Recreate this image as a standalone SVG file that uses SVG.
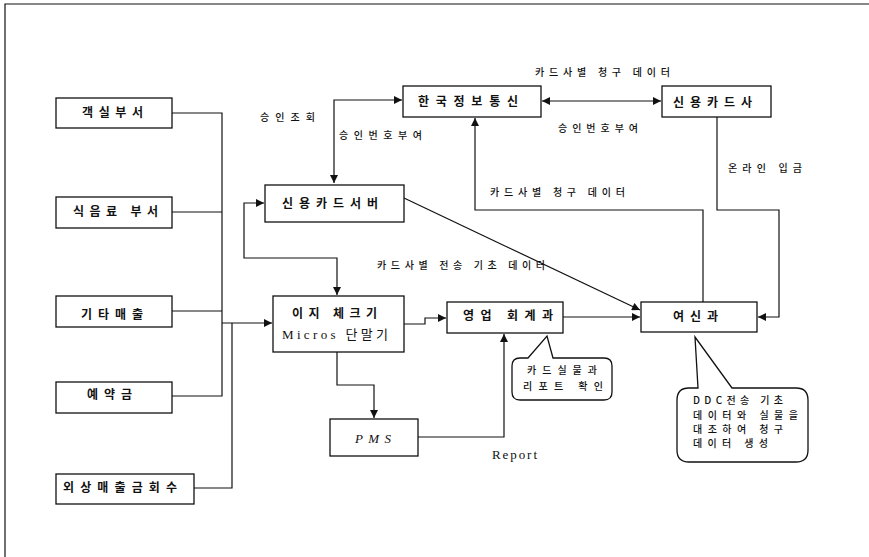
<svg xmlns="http://www.w3.org/2000/svg" width="869" height="557" viewBox="0 0 869 557">
<style>
.box{fill:#fff;stroke:#111;stroke-width:1.3}
.ln{fill:none;stroke:#111;stroke-width:1.2}
.t{font-family:"Noto Sans CJK KR","Liberation Sans",sans-serif;font-size:12px;font-weight:bold;fill:#111}
.l{font-family:"Noto Sans CJK KR","Liberation Sans",sans-serif;font-size:10px;font-weight:500;fill:#111}
.s{font-family:"Liberation Serif","Noto Sans CJK KR",serif;font-size:13px;fill:#111}
</style>
<defs>
<marker id="a" viewBox="0 0 10 10" refX="10" refY="5" markerWidth="9" markerHeight="8" markerUnits="userSpaceOnUse" orient="auto-start-reverse"><path d="M0,0 L10,5 L0,10 Z" fill="#111"/></marker>
</defs>
<rect width="869" height="557" fill="#fff"/>
<path class="ln" d="M5,557 V4 H869" stroke-width="1.8"/>
<g id="connectors">
<path class="ln" d="M172,113 H222 V396 H172"/>
<path class="ln" d="M172,212 H222"/>
<path class="ln" d="M172,311 H222"/>
<path class="ln" d="M222,323 H272" marker-end="url(#a)"/>
<path class="ln" d="M194,488 H232 V323"/>
<path class="ln" d="M264,203 H244 V258 H337 V295" marker-start="url(#a)" marker-end="url(#a)"/>
<path class="ln" d="M402,100 H334 V183" marker-start="url(#a)" marker-end="url(#a)"/>
<path class="ln" d="M542,101 H661" marker-start="url(#a)" marker-end="url(#a)"/>
<path class="ln" d="M717,117 V210 H779 V317 H758" marker-end="url(#a)"/>
<path class="ln" d="M703,302 V210 H475 V118" marker-end="url(#a)"/>
<path class="ln" d="M404,198 L640,310" marker-end="url(#a)"/>
<path class="ln" d="M404,324 H425 V318 H446" marker-end="url(#a)"/>
<path class="ln" d="M563,317 H640" marker-end="url(#a)"/>
<path class="ln" d="M337,352 V385 H374 V418" marker-end="url(#a)"/>
<path class="ln" d="M418,437 H504 V334" marker-end="url(#a)"/>
</g>
<g id="n-gaeksil"><rect class="box" x="56" y="98" width="116" height="30"/><text class="t" x="82" y="117" textLength="61" lengthAdjust="spacing">객실부서</text></g>
<g id="n-sigeumryo"><rect class="box" x="56" y="197" width="116" height="31"/><text class="t" x="73" y="216" textLength="85" lengthAdjust="spacing">식음료 부서</text></g>
<g id="n-gita"><rect class="box" x="56" y="296" width="116" height="31"/><text class="t" x="81" y="319" textLength="62" lengthAdjust="spacing">기타매출</text></g>
<g id="n-yeyak"><rect class="box" x="56" y="382" width="116" height="31"/><text class="t" x="87" y="399" textLength="45" lengthAdjust="spacing">예약금</text></g>
<g id="n-oesang"><rect class="box" x="56" y="474" width="138" height="30"/><text class="t" x="63" y="492" textLength="114" lengthAdjust="spacing">외상매출금회수</text></g>
<g id="n-server"><rect class="box" x="265" y="185" width="139" height="37"/><text class="t" x="282" y="208" textLength="96" lengthAdjust="spacing">신용카드서버</text></g>
<g id="n-kicc"><rect class="box" x="403" y="86" width="138" height="31"/><text class="t" x="418" y="106" textLength="100" lengthAdjust="spacing">한국정보통신</text></g>
<g id="n-cardco"><rect class="box" x="662" y="86" width="109" height="31"/><text class="t" x="673" y="107" textLength="79" lengthAdjust="spacing">신용카드사</text></g>
<g id="n-easy"><rect class="box" x="273" y="296" width="131" height="56"/><text class="t" x="292" y="318" textLength="85" lengthAdjust="spacing">이지 체크기</text><text class="s" x="282" y="339" textLength="106" lengthAdjust="spacing">Micros 단말기</text></g>
<g id="n-sales"><rect class="box" x="447" y="302" width="116" height="31"/><text class="t" x="463" y="320" textLength="90" lengthAdjust="spacing">영업 회계과</text></g>
<g id="n-credit"><rect class="box" x="641" y="302" width="116" height="30"/><text class="t" x="673" y="321" textLength="45" lengthAdjust="spacing">여신과</text></g>
<g id="n-pms"><rect class="box" x="330" y="419" width="88" height="37"/><text class="s" x="355" y="443" font-style="italic" textLength="36" lengthAdjust="spacing">PMS</text></g>
<g id="c-sales"><path class="box" d="M528,358 L547,336 L553,358 H604 Q612,358 612,366 V392 Q612,400 604,400 H520 Q512,400 512,392 V366 Q512,358 520,358 Z"/><text class="l" x="527" y="374" textLength="70" lengthAdjust="spacing">카드실물과</text><text class="l" x="523" y="390" textLength="80" lengthAdjust="spacing">리포트 확인</text></g>
<g id="c-credit"><path class="box" d="M698,388 L695,337 L732,388 H796 Q808,388 808,400 V450 Q808,462 796,462 H689 Q677,462 677,450 V400 Q677,388 689,388 Z"/><text class="l" x="693" y="404" textLength="90" lengthAdjust="spacing">DDC전송 기초</text><text class="l" x="693" y="419" textLength="105" lengthAdjust="spacing">데이터와 실물을</text><text class="l" x="693" y="433" textLength="90" lengthAdjust="spacing">대조하여 청구</text><text class="l" x="693" y="447" textLength="75" lengthAdjust="spacing">데이터 생성</text></g>
<g id="labels">
<text class="l" x="260" y="121" textLength="55" lengthAdjust="spacing">승인조회</text>
<text class="l" x="339" y="139" textLength="83" lengthAdjust="spacing">승인번호부여</text>
<text class="l" x="535" y="76" textLength="135" lengthAdjust="spacing">카드사별 청구 데이터</text>
<text class="l" x="558" y="132" textLength="80" lengthAdjust="spacing">승인번호부여</text>
<text class="l" x="728" y="172" textLength="74" lengthAdjust="spacing">온라인 입금</text>
<text class="l" x="490" y="196" textLength="135" lengthAdjust="spacing">카드사별 청구 데이터</text>
<text class="l" x="377" y="269" textLength="168" lengthAdjust="spacing">카드사별 전송 기초 데이터</text>
<text class="s" x="492" y="459" font-size="11" textLength="45" lengthAdjust="spacing">Report</text>
</g>
</svg>
